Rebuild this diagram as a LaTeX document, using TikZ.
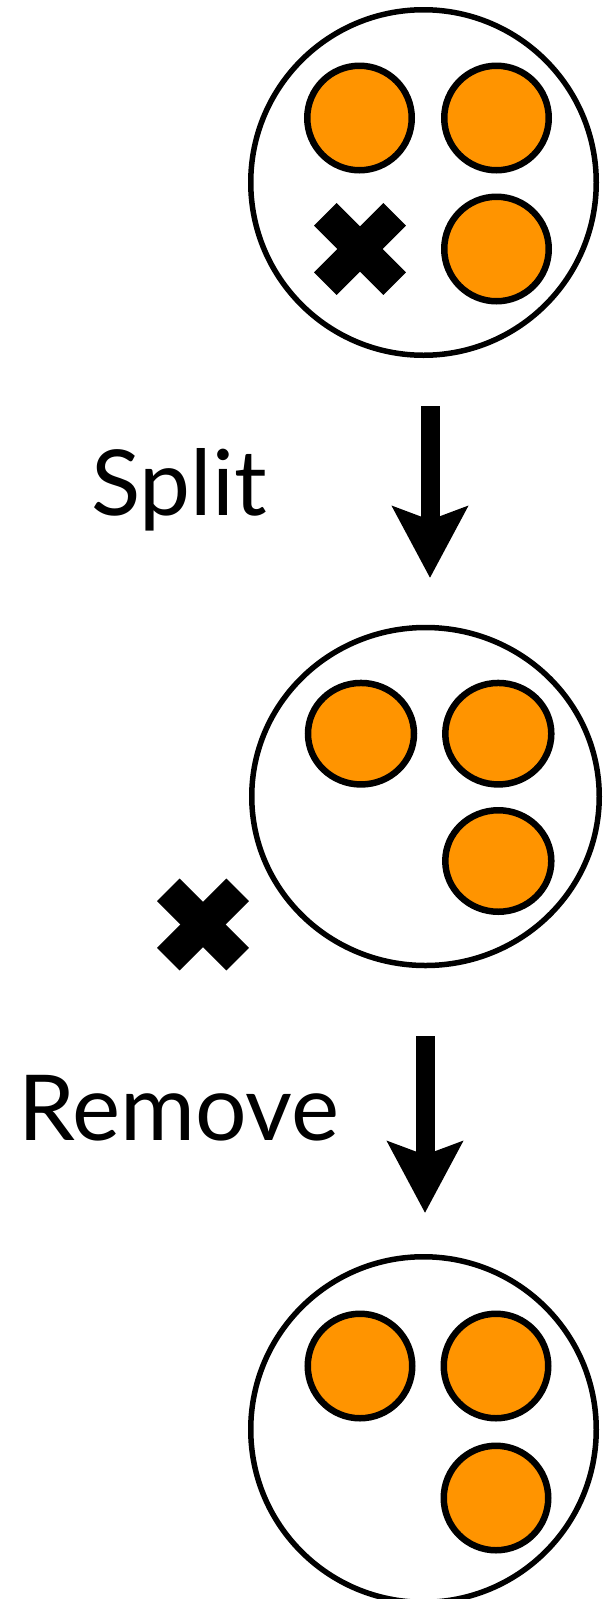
\documentclass[tikz,border=0pt]{standalone}
\usepackage{fontspec}
\setmainfont{Lato}
\usetikzlibrary{arrows.meta, shapes.geometric}
\definecolor{corange}{HTML}{FF9400}
\tikzset{
  every picture/.style={x=1pt, y=-1pt},
  cell/.style={ellipse, draw, fill=white, line width=5.5pt, inner sep=0pt, minimum width=345.5pt, minimum height=345.5pt},
  dot/.style={ellipse, draw, fill=corange, line width=6.5pt, inner sep=0pt, minimum width=104.5pt, minimum height=104.5pt},
  arrow/.style={-{Stealth[length=71pt, width=74pt, inset=13pt]}, line width=19pt},
  stepname/.style={font=\fontsize{91}{100}\selectfont, inner sep=0pt, anchor=base west},
  xmark/.pic={
    \fill[rotate=45] (-49,-16) rectangle (49,16);
    \fill[rotate=-45] (-49,-16) rectangle (49,16);
  },
}
\begin{document}
\begin{tikzpicture}
  \useasboundingbox (0,0) rectangle (603,1599);
  % before the split
  \node[cell] (top) at (423.5,182.5) {};
  \node[dot] (ta) at (359.5,118) {};
  \node[dot] (tb) at (496.5,118) {};
  \node[dot] (tc) at (496.5,249) {};
  \pic (tx) at (360,249) {xmark};
  % split
  \coordinate (s1) at (430,406);
  \coordinate (e1) at (430,578);
  \draw[arrow] (s1) -- (e1);
  \node[stepname] (split) at (91,515) {Split};
  % after the split
  \node[cell, minimum width=347.5pt, minimum height=338pt] (mid) at (425.5,796.5) {};
  \node[dot, minimum width=106pt, minimum height=101.5pt] (ma) at (361,733.7) {};
  \node[dot, minimum width=106pt, minimum height=101.5pt] (mb) at (498.3,733.7) {};
  \node[dot, minimum width=106pt, minimum height=101.5pt] (mc) at (498.3,861) {};
  \pic (mx) at (203,924.5) {xmark};
  % remove
  \coordinate (s2) at (425,1036);
  \coordinate (e2) at (425,1213);
  \draw[arrow] (s2) -- (e2);
  \node[stepname] (remove) at (18,1140) {Remove};
  % result
  \node[cell] (bot) at (423.5,1429.5) {};
  \node[dot] (ba) at (360,1366) {};
  \node[dot] (bb) at (496,1366) {};
  \node[dot] (bc) at (496,1498) {};
\end{tikzpicture}
\end{document}
